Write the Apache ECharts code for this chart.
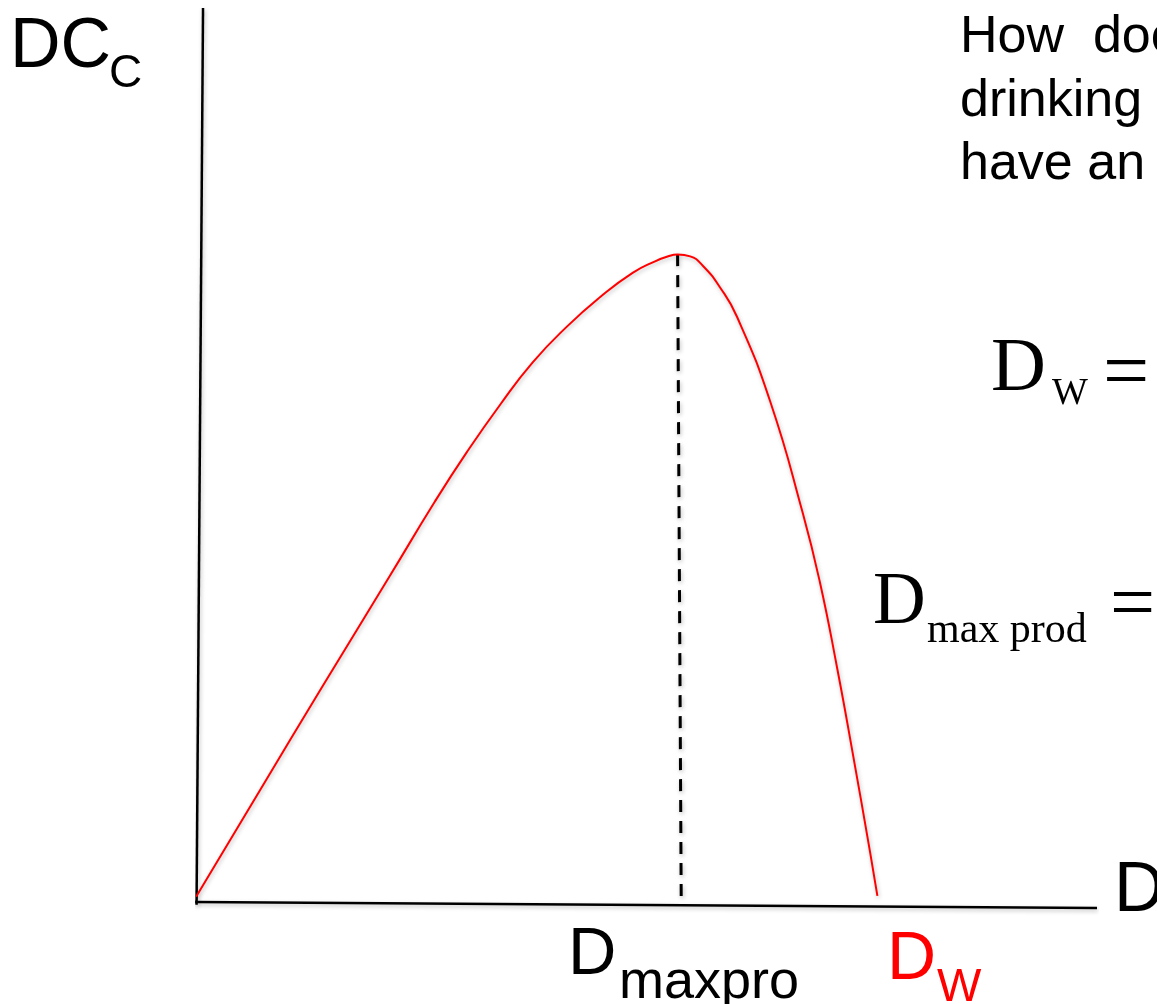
<!DOCTYPE html>
<html>
<head>
<meta charset="utf-8">
<script src="https://cdn.jsdelivr.net/npm/echarts@6/dist/echarts.min.js"></script>
<style>
  html, body { margin: 0; padding: 0; background: #fff; }
  #chart { width: 1157px; height: 1004px; }
</style>
</head>
<body>
<div id="chart"></div>
<script>
  // curve: D on x, DC_C on y, origin at the axes corner
  const curveD = [-0.01, 0.70, 1.40, 2.14, 2.64, 3.00, 3.37, 3.73, 4.11, 4.48, 4.84, 5.09, 5.22, 5.34, 5.48, 5.62, 5.81, 6.00, 6.37, 6.73, 6.92, 7.11, 7.29, 7.48, 7.56]
  const curveDC = [0.07, 1.26, 2.43, 3.65, 4.48, 5.04, 5.57, 6.04, 6.44, 6.77, 7.04, 7.17, 7.22, 7.245, 7.225, 7.12, 6.88, 6.55, 5.60, 4.36, 3.59, 2.64, 1.65, 0.56, 0.08]
  // dashed drop line from the peak
  const peakD = [5.34, 5.38]
  const peakDC = [7.25, 0.07]
  // hand drawn axes (slightly tilted)
  const yAxisD = [0.067, -0.005]
  const yAxisDC = [10.0, -0.02]
  const xAxisD = [-0.02, 10.0]
  const xAxisDC = [0.012, -0.056]

  const question = ['How  does', 'drinking', 'have an']

  const SANS = '"Liberation Sans", Arial, sans-serif'
  const SERIF = '"Liberation Serif", "Times New Roman", serif'

  const zip = (xs, ys) => xs.map((x, i) => [x, ys[i]])
  const shadow = {
    shadowColor: 'rgba(0,0,0,0.25)',
    shadowBlur: 4,
    shadowOffsetX: 1,
    shadowOffsetY: 2
  }

  function label (text, x, y, size, family, color, extra) {
    return {
      type: 'text',
      x: x,
      y: y,
      silent: true,
      style: Object.assign({
        text: text,
        fontSize: size,
        fontFamily: family,
        fill: color || '#000',
        align: 'left',
        verticalAlign: 'middle'
      }, extra || {})
    }
  }

  const chart = echarts.init(document.getElementById('chart'))
  chart.setOption({
    animation: false,
    backgroundColor: '#fff',
    grid: { left: 197, right: 60, top: 8, bottom: 101 },
    xAxis: { type: 'value', min: 0, max: 10, show: false },
    yAxis: { type: 'value', min: 0, max: 10, show: false },
    series: [
      {
        type: 'line',
        data: zip(yAxisD, yAxisDC),
        symbol: 'none',
        clip: false,
        silent: true,
        lineStyle: Object.assign({ color: '#000', width: 2.5 }, shadow)
      },
      {
        type: 'line',
        data: zip(xAxisD, xAxisDC),
        symbol: 'none',
        clip: false,
        silent: true,
        lineStyle: Object.assign({ color: '#000', width: 2.5 }, shadow)
      },
      {
        type: 'line',
        data: zip(peakD, peakDC),
        symbol: 'none',
        clip: false,
        silent: true,
        lineStyle: Object.assign({ color: '#000', width: 3, type: [12, 9] }, shadow)
      },
      {
        type: 'line',
        data: zip(curveD, curveDC),
        symbol: 'none',
        smooth: 0.5,
        clip: false,
        silent: true,
        lineStyle: Object.assign({ color: '#ff0000', width: 2 }, shadow)
      }
    ],
    graphic: [
      // y axis title
      label('DC', 10, 48, 70, SANS),
      label('C', 109, 74, 46, SANS),
      // x axis title
      label('D', 1114, 892, 70, SANS),
      // question in the corner
      label(question.join('\n'), 960, 6, 52, SANS, '#000', { verticalAlign: 'top', lineHeight: 63.5 }),
      // equations
      label('D', 991, 370, 76, SERIF),
      label('W', 1052, 394, 38, SERIF),
      label('=', 1103, 376, 82, SERIF),
      label('D', 873, 604, 73, SERIF),
      label('max prod', 927, 631, 42, SERIF),
      label('=', 1110, 608, 80, SERIF),
      // tick labels under the axis
      label('D', 568, 956, 67, SANS),
      label('maxpro', 619, 983, 54, SANS),
      label('D', 887, 960, 68, SANS, '#ff0000'),
      label('W', 937, 988, 47, SANS, '#ff0000')
    ]
  })
</script>
</body>
</html>
